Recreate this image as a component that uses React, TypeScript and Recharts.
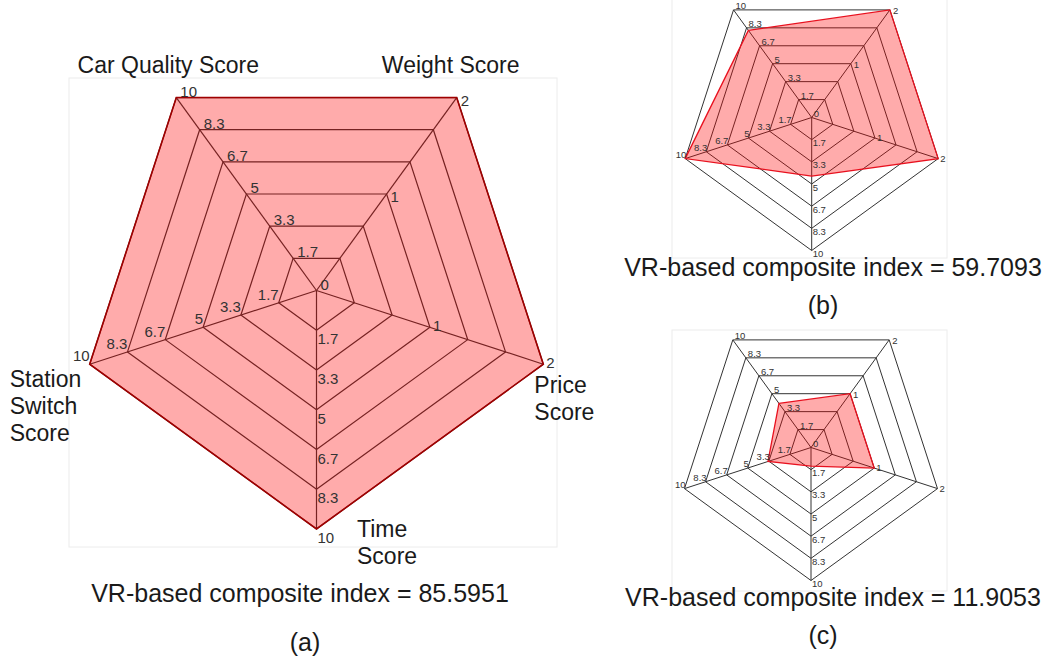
import React from "react";
import {
  RadarChart,
  Radar,
  PolarGrid,
  PolarAngleAxis,
  PolarRadiusAxis,
} from "recharts";

const FONT = "'Liberation Sans', Arial, Helvetica, sans-serif";

// axes, clockwise from top-left
const categories = [
  "Car Quality Score",
  "Weight Score",
  "Price Score",
  "Time Score",
  "Station Switch Score",
];
const axisMax = [10, 2, 2, 10, 10];
const ringCount = 6;
const ringLabels = [
  ["0", "1.7", "3.3", "5", "6.7", "8.3", "10"],
  ["", "", "", "1", "", "", "2"],
  ["", "", "", "1", "", "", "2"],
  ["", "1.7", "3.3", "5", "6.7", "8.3", "10"],
  ["", "1.7", "3.3", "5", "6.7", "8.3", "10"],
];
const axisNameLines = [
  ["Car Quality Score"],
  ["Weight Score"],
  ["Price", "Score"],
  ["Time", "Score"],
  ["Station", "Switch", "Score"],
];

// scores
const scoresA = [10, 2, 2, 10, 10];
const scoresB = [8.1, 2, 2, 4.4, 10];
const scoresC = [4.1, 1, 1, 1.4, 3.4];
const compositeIndex = ["85.5951", "59.7093", "11.9053"];
const panelTags = ["(a)", "(b)", "(c)"];

const levels = Array.from({ length: ringCount + 1 }, (_, k) => k);
const ringTicks = levels.map((k) => k / ringCount);

function buildRows(scores: number[]) {
  return categories.map((name, i) => {
    const row: Record<string, any> = { name, value: scores[i] / axisMax[i] };
    levels.forEach((k) => {
      row[`r${k}`] = k / ringCount;
    });
    return row;
  });
}

type Off = { dx: number; dy: number; anchor: "start" | "middle" | "end" };

const bigTickOff: Off[] = [
  { dx: 4, dy: -1, anchor: "start" },
  { dx: 4, dy: 8, anchor: "start" },
  { dx: 3, dy: 4, anchor: "start" },
  { dx: 1, dy: 14, anchor: "start" },
  { dx: 0, dy: -3, anchor: "end" },
];
const smallTickOff: Off[] = [
  { dx: 2, dy: -1, anchor: "start" },
  { dx: 3, dy: 4, anchor: "start" },
  { dx: 2, dy: 3, anchor: "start" },
  { dx: 1, dy: 6.5, anchor: "start" },
  { dx: 1, dy: -1, anchor: "end" },
];
const nameOff: Off[] = [
  { dx: -8, dy: -24.6, anchor: "middle" },
  { dx: -6, dy: -24.6, anchor: "middle" },
  { dx: -9, dy: 29, anchor: "start" },
  { dx: 40.5, dy: 8, anchor: "start" },
  { dx: -80, dy: 23, anchor: "start" },
];
const TICK_GAP = 8;

function AxisName(props: any) {
  const { x, y, index, payload } = props;
  // step back from the tick position to the outer vertex
  const rad = (-payload.coordinate * Math.PI) / 180;
  const vx = x - TICK_GAP * Math.cos(rad);
  const vy = y - TICK_GAP * Math.sin(rad);
  const o = nameOff[index];
  return (
    <text
      x={vx + o.dx}
      y={vy + o.dy}
      textAnchor={o.anchor}
      fontFamily={FONT}
      fontSize={23}
      fill="#1a1a1a"
    >
      {axisNameLines[index].map((line, j) => (
        <tspan key={j} x={vx + o.dx} dy={j === 0 ? 0 : 27}>
          {line}
        </tspan>
      ))}
    </text>
  );
}

interface WebProps {
  scores: number[];
  width: number;
  height: number;
  cx: number;
  cy: number;
  outerRadius: number;
  small?: boolean;
  stroke: string;
}

function Web({ scores, width, height, cx, cy, outerRadius, small, stroke }: WebProps) {
  const rows = buildRows(scores);
  const offs = small ? smallTickOff : bigTickOff;
  const fontSize = small ? 9.5 : 15;

  const ringLabel = (k: number) => (p: any) => {
    const txt = ringLabels[p.index][k];
    if (!txt) return <g key={`rl-${k}-${p.index}`} />;
    const o = offs[p.index];
    return (
      <text
        key={`rl-${k}-${p.index}`}
        x={p.cx + o.dx}
        y={p.cy + o.dy}
        textAnchor={o.anchor}
        fontFamily={FONT}
        fontSize={fontSize}
        fill="#333"
      >
        {txt}
      </text>
    );
  };

  return (
    <RadarChart
      width={width}
      height={height}
      data={rows}
      cx={cx}
      cy={cy}
      outerRadius={outerRadius}
      startAngle={126}
      endAngle={-234}
      margin={{ top: 0, right: 0, bottom: 0, left: 0 }}
    >
      <PolarGrid gridType="polygon" stroke="#333" strokeWidth={small ? 1 : 1.2} />
      <PolarRadiusAxis
        type="number"
        domain={[0, 1]}
        ticks={ringTicks}
        tick={false}
        axisLine={false}
      />
      <PolarAngleAxis
        dataKey="name"
        tickSize={TICK_GAP}
        tickLine={false}
        axisLine={false}
        tick={small ? false : AxisName}
      />
      <Radar
        dataKey="value"
        stroke={stroke}
        strokeWidth={small ? 1.3 : 1.6}
        fill="#ff0000"
        fillOpacity={0.33}
        isAnimationActive={false}
      />
      {levels.map((k) => (
        <Radar
          key={k}
          dataKey={`r${k}`}
          stroke="none"
          fill="none"
          dot={ringLabel(k)}
          activeDot={false}
          isAnimationActive={false}
        />
      ))}
    </RadarChart>
  );
}

export default function App() {
  return (
    <div
      style={{
        position: "absolute",
        left: 0,
        top: 0,
        width: 1050,
        height: 663,
        background: "#fff",
        overflow: "hidden",
      }}
    >
      <svg
        width={1050}
        height={663}
        style={{ position: "absolute", left: 0, top: 0 }}
      >
        <rect x={69} y={78} width={488} height={469} fill="none" stroke="#ececec" />
        <rect x={672} y={-1} width={275} height={259} fill="none" stroke="#ececec" />
        <rect x={672} y={330} width={275} height={261} fill="none" stroke="#ececec" />
        <g fontFamily={FONT} fontSize={25} fill="#1a1a1a" textAnchor="middle">
          <text x={300} y={602}>{`VR-based composite index = ${compositeIndex[0]}`}</text>
          <text x={305} y={651}>{panelTags[0]}</text>
          <text x={833} y={276}>{`VR-based composite index = ${compositeIndex[1]}`}</text>
          <text x={823} y={314}>{panelTags[1]}</text>
          <text x={833} y={606}>{`VR-based composite index = ${compositeIndex[2]}`}</text>
          <text x={823} y={644}>{panelTags[2]}</text>
        </g>
      </svg>
      <div style={{ position: "absolute", left: 0, top: 0 }}>
        <Web
          scores={scoresA}
          width={640}
          height={600}
          cx={316.5}
          cy={290.5}
          outerRadius={238.5}
          stroke="#a00000"
        />
      </div>
      <div style={{ position: "absolute", left: 640, top: 0 }}>
        <Web
          scores={scoresB}
          width={410}
          height={262}
          cx={171.7}
          cy={117.5}
          outerRadius={133}
          small
          stroke="#e8101e"
        />
      </div>
      <div style={{ position: "absolute", left: 640, top: 330 }}>
        <Web
          scores={scoresC}
          width={410}
          height={262}
          cx={171}
          cy={117.5}
          outerRadius={133}
          small
          stroke="#e8101e"
        />
      </div>
    </div>
  );
}
